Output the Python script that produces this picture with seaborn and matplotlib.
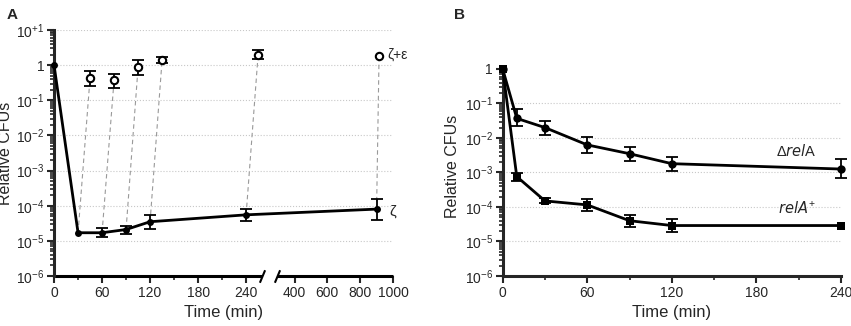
import numpy as np
import matplotlib
matplotlib.use("Agg")
import matplotlib.pyplot as plt
import seaborn as sns

# panel A: zeta alone, and zeta + epsilon added (sampled 15 min later)
zeta_t = [0, 30, 60, 90, 120, 240, 900]
zeta = [1, 1.7e-5, 1.7e-5, 2.1e-5, 3.5e-5, 5.5e-5, 8e-5]
zeta_lo = [np.nan, np.nan, 1.3e-5, 1.6e-5, 2.2e-5, 3.7e-5, 4e-5]
zeta_hi = [np.nan, np.nan, 2.3e-5, 2.6e-5, 5.3e-5, 8e-5, 1.6e-4]

ze_t = [45, 75, 105, 135, 255, 915]
ze = [0.43, 0.37, 0.86, 1.39, 2.0, 1.77]
ze_lo = [0.26, 0.23, 0.52, 1.14, 1.48, np.nan]
ze_hi = [0.66, 0.56, 1.42, 1.66, 2.7, np.nan]

# panel B
t_b = [0, 10, 30, 60, 90, 120, 240]
drel = [1, 0.037, 0.020, 0.0063, 0.0035, 0.0018, 0.00126]
drel_lo = [np.nan, 0.022, 0.0125, 0.0037, 0.0021, 0.0011, 0.00067]
drel_hi = [np.nan, 0.068, 0.032, 0.0107, 0.0056, 0.0029, 0.0024]
rel = [1, 7.6e-4, 1.5e-4, 1.15e-4, 4e-5, 2.9e-5, 2.9e-5]
rel_lo = [np.nan, 5.8e-4, 1.3e-4, 7.5e-5, 2.7e-5, 1.9e-5, np.nan]
rel_hi = [np.nan, 9.6e-4, 1.8e-4, 1.7e-4, 6e-5, 4.6e-5, np.nan]

ticks_a = [1e1, 1, 1e-1, 1e-2, 1e-3, 1e-4, 1e-5, 1e-6]
labels_a = [r"10$^{+1}$", "1", r"10$^{-1}$", r"10$^{-2}$", r"10$^{-3}$",
            r"10$^{-4}$", r"10$^{-5}$", r"10$^{-6}$"]
xt_a = [0, 60, 120, 180, 240, 400, 600, 800, 1000]

sns.set_style("ticks")
plt.rcParams["font.family"] = ["Liberation Sans", "DejaVu Sans"]
plt.rcParams["mathtext.default"] = "regular"

# broken x axis: 0-260 linear, gap, 295-1000 compressed
K = 0.205
def fwd(x):
    x = np.asarray(x, dtype=float)
    return np.where(x <= 260, x, 279 + (x - 295) * K)

def inv(y):
    y = np.asarray(y, dtype=float)
    return np.where(y <= 260, y, 295 + (y - 279) / K)


def errbars(ax, x, y, lo, hi, **kw):
    x, y, lo, hi = map(np.asarray, (x, y, lo, hi))
    m = ~np.isnan(lo)
    ax.errorbar(x[m], y[m], yerr=[y[m] - lo[m], hi[m] - y[m]], fmt="none",
                ecolor="black", elinewidth=1.3, capsize=4, capthick=1.3,
                clip_on=False, **kw)


def style_y(ax, ticks, labels):
    ax.set_yscale("log")
    ax.set_yticks(ticks)
    ax.set_yticklabels(labels)
    ax.yaxis.set_minor_locator(matplotlib.ticker.LogLocator(base=10, subs=np.arange(2, 10), numticks=20))
    ax.yaxis.set_minor_formatter(matplotlib.ticker.NullFormatter())
    ax.tick_params(axis="both", which="major", direction="out", length=5, width=1.5, labelsize=10, pad=2)
    ax.tick_params(axis="both", which="minor", direction="out", length=3, width=1.2)
    ax.spines["left"].set_linewidth(2.2)
    ax.spines["bottom"].set_linewidth(2.2)
    ax.spines["top"].set_visible(False)
    ax.spines["right"].set_visible(False)


fig = plt.figure(figsize=(8.51, 3.26), dpi=100)
axA = fig.add_axes([0.0635, 0.1534, 0.3983, 0.7546])
axB = fig.add_axes([0.5907, 0.1534, 0.3975, 0.635])

# ---- panel A
axA.set_xscale("function", functions=(fwd, inv))
style_y(axA, ticks_a, labels_a)
axA.set_ylim(1e-6, 10)
axA.set_xlim(0, 1000)
for v in ticks_a[:-1]:
    axA.axhline(v, color="#c8c8c8", lw=0.8, ls=":", zorder=0)

for t0, y0, t1, y1 in zip(zeta_t[1:], zeta[1:], ze_t, ze):
    axA.plot([t0, t1], [y0, y1], color="#999999", lw=0.8, ls=(0, (4, 3)), zorder=1)

sns.lineplot(x=zeta_t, y=zeta, ax=axA, color="black", lw=2, marker="o",
             markersize=5, markeredgewidth=0, clip_on=False, zorder=3)
errbars(axA, zeta_t, zeta, zeta_lo, zeta_hi, zorder=3)
errbars(axA, ze_t, ze, ze_lo, ze_hi, zorder=3)
sns.scatterplot(x=ze_t, y=ze, ax=axA, marker="o", s=28, facecolor="white",
                edgecolor="black", linewidth=1.5, zorder=4)
# gap in the curve where the axis is broken
axA.axvspan(260, 295, ymin=0.29, ymax=0.36, color="white", lw=0, zorder=3.5)

axA.spines["bottom"].set_visible(False)
xf = axA.get_xaxis_transform()
axA.plot([0, 260], [0, 0], color="black", lw=2.2, transform=xf, clip_on=False, solid_capstyle="butt")
axA.plot([295, 1000], [0, 0], color="black", lw=2.2, transform=xf, clip_on=False, solid_capstyle="butt")
axA.plot([260, 295], [0, 0], ls="none", marker=[(-1, -2.4), (1, 2.4)], markersize=9,
         markeredgewidth=1.5, color="black", transform=xf, clip_on=False)
axA.set_xticks(xt_a)
axA.set_xticklabels([str(v) for v in xt_a])
axA.set_xticks([30, 90, 150, 210], minor=True)
axA.set_xlabel("Time (min)", fontsize=12)
axA.set_ylabel("Relative CFUs", fontsize=11.5)
axA.yaxis.set_label_coords(-0.12, 0.5)
axA.annotate("ζ+ε", (ze_t[-1], ze[-1]), xytext=(6, 1), textcoords="offset points",
             fontsize=10, va="center", ha="left")
axA.annotate("ζ", (zeta_t[-1], zeta[-1]), xytext=(9, -2), textcoords="offset points",
             fontsize=11, va="center", ha="left")

# ---- panel B
style_y(axB, ticks_a[1:], labels_a[1:])
axB.set_ylim(1e-6, 1)
axB.set_xlim(0, 240)
for v in ticks_a[2:-1]:
    axB.axhline(v, color="#c8c8c8", lw=0.8, ls=":", zorder=0)
sns.lineplot(x=t_b, y=drel, ax=axB, color="black", lw=2, marker="o",
             markersize=6, markeredgewidth=0, clip_on=False, zorder=3)
errbars(axB, t_b, drel, drel_lo, drel_hi, zorder=3)
sns.lineplot(x=t_b, y=rel, ax=axB, color="black", lw=2, marker="s",
             markersize=6, markeredgewidth=0, clip_on=False, zorder=3)
errbars(axB, t_b, rel, rel_lo, rel_hi, zorder=3)
axB.set_xticks([0, 60, 120, 180, 240])
axB.set_xticks([30, 90, 150, 210], minor=True)
axB.set_xlabel("Time (min)", fontsize=12)
axB.set_ylabel("Relative CFUs", fontsize=11.5)
axB.yaxis.set_label_coords(-0.125, 0.53)
axB.annotate(r"$\Delta\mathit{rel}$A", (t_b[-1], drel[-1]), xytext=(-32, 7),
             textcoords="offset points", fontsize=10.5, ha="center", va="bottom")
axB.annotate(r"$\mathit{relA}^{+}$", (t_b[-1], rel[-1]), xytext=(-32, 7),
             textcoords="offset points", fontsize=10.5, ha="center", va="bottom")

fig.text(0.008, 0.975, "A", fontsize=11, fontweight="bold", va="top")
fig.text(0.533, 0.975, "B", fontsize=11, fontweight="bold", va="top")

fig.savefig("out.png", dpi=100)
